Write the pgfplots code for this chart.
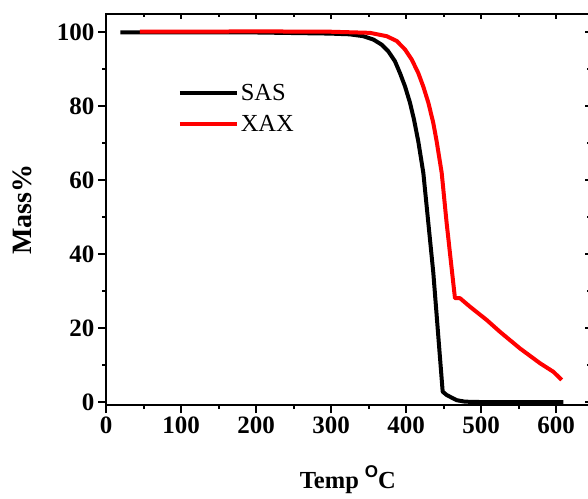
\documentclass[border=0pt]{standalone}
\usepackage{pgfplots}
\pgfplotsset{compat=1.18}
\usepackage{fontspec}
\setmainfont{Liberation Serif}
\newfontfamily\sansO{Liberation Sans}
\begin{document}
\begin{tikzpicture}[x=1pt,y=1pt]
\pgfplotsset{
  common/.style={
    at={(106pt,93pt)}, anchor=south west,
    scale only axis, width=483.75pt, height=391pt,
    xmin=0, xmax=645, ymin=-0.8, ymax=105,
    xtick={0,100,...,600}, ytick={0,20,...,100},
    minor x tick num=1, minor y tick num=1,
    axis line style={line width=2pt},
    every tick/.style={line width=2pt, black},
  }
}
\begin{axis}[common,
  xtick pos=top, ytick pos=right, tick align=inside,
  major tick length=5pt, minor tick length=2.7pt,
  xticklabels={}, yticklabels={}]
\end{axis}
\begin{axis}[common,
  xtick pos=bottom, ytick pos=left, tick align=outside,
  major tick length=8pt, minor tick length=4pt,
  xticklabels={0,100,200,300,400,500,600},
  yticklabels={0,20,40,60,80,100},
  ticklabel style={font=\fontsize{25}{30}\selectfont\bfseries},
  xlabel={Temp \raisebox{0.42em}{\sansO\fontsize{17}{20}\selectfont O}C}, ylabel={Mass\%},
  xlabel style={font=\fontsize{24.5}{29}\selectfont\bfseries, anchor=base, at={(axis description cs:0.5,-0.2123)}},
  ylabel style={font=\fontsize{28}{32}\selectfont\bfseries, anchor=center, at={(axis description cs:-0.1726,0.5)}},
  legend style={draw=none, fill=none, at={(axis description cs:0.148,0.825)}, anchor=north west,
    font=\fontsize{24.5}{29}\selectfont, row sep=8.5pt, inner sep=0pt},
  legend cell align=left,
  legend image code/.code={\draw[#1] (0pt,0pt) -- (57pt,0pt);},
]
\addplot[black, line width=4pt, line join=round] coordinates {
(19,100) (100,100) (200,100) (298.7,99.7) (325,99.5) (343,99.0) (356.4,98.1) (367.6,96.7) (376.4,94.9)
(385.3,92.2) (392,89) (398.7,85.4) (405.3,81) (410.7,76.4) (416.4,70.5) (423.1,62) (429.8,48.4)
(436.4,35) (443.1,17.7) (448.9,2.8) (454.2,1.9) (467.6,0.5) (478.7,0.1) (500,0) (550,0) (609.8,0)
};
\addlegendentry{SAS}
\addplot[red, line width=4pt, line join=round] coordinates {
(45,100.2) (100,100.2) (200,100.3) (300,100.2) (352,99.9) (374.2,99.0) (387.6,97.7) (398.7,95.4)
(407.6,92.7) (416.4,89) (423,85.4) (429.8,81) (436.4,75.5) (440.9,70.5) (447.6,62) (454.2,48.4)
(461.5,35) (465.3,28.1) (472,28.1) (485.3,25.8) (507.6,22.2) (525.3,19) (552,14.5) (578.7,10.5)
(596.4,8.2) (607.6,6)
};
\addlegendentry{XAX}
\end{axis}
\pgfresetboundingbox
\useasboundingbox (0,0) rectangle (588,498);
\end{tikzpicture}
\end{document}
